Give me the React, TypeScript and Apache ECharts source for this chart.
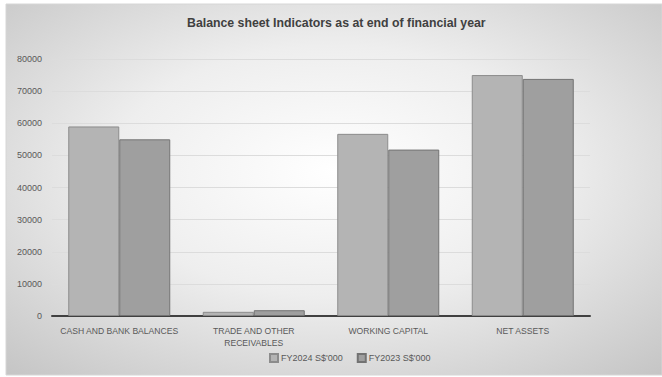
import React, { useEffect, useRef } from "react";
import * as echarts from "echarts";

const categories = ["CASH AND BANK BALANCES", "TRADE AND OTHER\nRECEIVABLES", "WORKING CAPITAL", "NET ASSETS"];
const seriesNames = ["FY2024 S$'000", "FY2023 S$'000"];
const fy2024 = [59000, 1300, 56700, 75000];
const fy2023 = [55000, 1800, 51800, 73800];
const titleText = "Balance sheet Indicators as at end of financial year";

export default function App() {
  const ref = useRef<HTMLDivElement>(null);
  useEffect(() => {
    document.body.style.margin = "0";
    const chart = echarts.init(ref.current!, undefined, { renderer: "svg" });
    const labelFont = "'Liberation Sans Narrow', 'Arial Narrow', 'Liberation Sans', sans-serif";
    chart.setOption({
      animation: false,
      backgroundColor: "#ffffff",
      graphic: [
        {
          type: "rect",
          z: -10,
          silent: true,
          shape: { x: 6, y: 4, width: 656, height: 371 },
          style: {
            fill: {
              type: "radial",
              x: 0.5,
              y: 0.45,
              r: 0.75,
              colorStops: [
                { offset: 0, color: "#ffffff" },
                { offset: 0.45, color: "#eeeeee" },
                { offset: 1, color: "#c4c4c4" },
              ],
            },
            stroke: "#d6d6d6",
            lineWidth: 1,
          },
        },
      ],
      title: {
        text: titleText,
        left: 182,
        top: 12,
        textStyle: { fontFamily: "'Liberation Sans', Arial, sans-serif", fontSize: 12.3, fontWeight: "bold", color: "#404040" },
      },
      grid: { left: 52, right: 72, top: 59, bottom: 61 },
      legend: {
        bottom: 9,
        left: 264,
        itemWidth: 8,
        itemHeight: 8,
        itemGap: 14,
        icon: "rect",
        textStyle: { fontFamily: labelFont, fontSize: 9, color: "#595959", padding: [0, 0, 0, -2] },
        data: seriesNames,
      },
      xAxis: {
        type: "category",
        data: categories,
        axisLine: { lineStyle: { color: "#404040", width: 2 } },
        axisTick: { show: false },
        axisLabel: { fontFamily: labelFont, fontSize: 8.6, color: "#595959", margin: 9, lineHeight: 12, interval: 0 },
      },
      yAxis: {
        type: "value",
        min: 0,
        max: 80000,
        interval: 10000,
        axisLine: { show: false },
        axisTick: { show: false },
        axisLabel: { fontFamily: labelFont, fontSize: 9, color: "#595959", margin: 10, formatter: (v: number) => String(v) },
        splitLine: { lineStyle: { color: "#dcdcdc", width: 1 } },
      },
      series: [
        {
          name: seriesNames[0],
          type: "bar",
          data: fy2024,
          barWidth: 51,
          barGap: "0%",
          itemStyle: { color: "#b4b4b4", borderColor: "#8c8c8c", borderWidth: 1 },
        },
        {
          name: seriesNames[1],
          type: "bar",
          data: fy2023,
          barWidth: 51,
          barGap: "0%",
          itemStyle: { color: "#9f9f9f", borderColor: "#737373", borderWidth: 1 },
        },
      ],
    });
    return () => chart.dispose();
  }, []);
  return <div ref={ref} style={{ width: 662, height: 377 }} />;
}
